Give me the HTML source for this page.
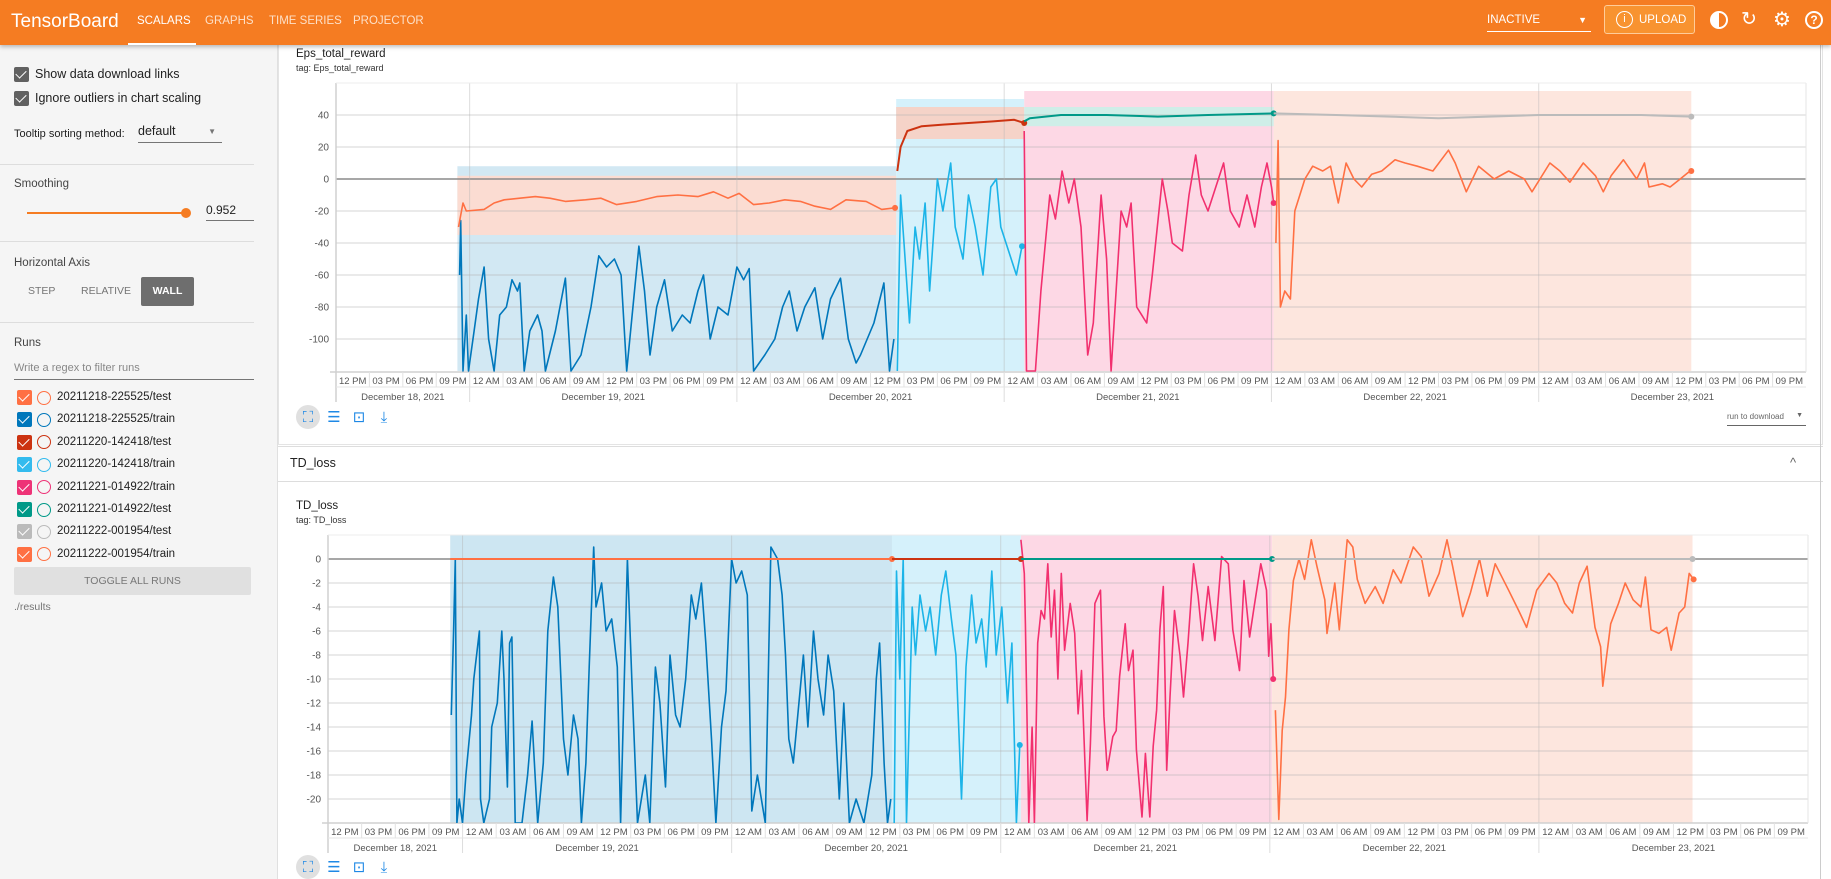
<!DOCTYPE html>
<html><head><meta charset="utf-8">
<style>
*{box-sizing:border-box;margin:0;padding:0}
body{width:1831px;height:879px;overflow:hidden;background:#fff;font-family:"Liberation Sans",sans-serif;position:relative;color:#212121}
.abs{position:absolute}
#hdr{left:0;top:0;width:1831px;height:45px;background:#f57c22;box-shadow:0 2px 4px rgba(0,0,0,.25);z-index:3}
.tab{position:absolute;top:15px;font-size:11.5px;color:#fde0c8;font-weight:normal;letter-spacing:0}
#side{left:0;top:45px;width:278px;height:834px;background:#f5f5f5;border-right:1px solid #e0e0e0}
.cb{position:absolute;width:15px;height:15px;border-radius:2px}
.cb::after{content:"";position:absolute;left:4px;top:1px;width:5px;height:9px;border:solid #fff;border-width:0 1.5px 1.5px 0;transform:rotate(45deg)}
.sep{position:absolute;left:0;width:254px;height:1px;background:#ddd}
.lbl{position:absolute;font-size:12px;color:#212121}
.run{position:absolute;left:0;height:20px;font-size:11.5px}
.ring{position:absolute;width:14px;height:14px;border-radius:50%;border:1.5px solid}
#svg{position:absolute;left:0;top:0}
</style></head><body>
<div id="hdr" class="abs">
 <div class="abs" style="left:11px;top:11px;font-size:19px;color:#fff">TensorBoard</div>
 <div class="tab" style="left:137px;color:#fff">SCALARS</div>
 <div class="abs" style="left:128px;top:43px;width:68px;height:2px;background:#fff"></div>
 <div class="tab" style="left:205px">GRAPHS</div>
 <div class="tab" style="left:269px">TIME SERIES</div>
 <div class="tab" style="left:353px">PROJECTOR</div>
 <div class="abs" style="left:1487px;top:12px;width:104px;height:20px;border-bottom:1px solid #fff;color:#fff;font-size:11.5px;padding-top:2px">INACTIVE<span style="position:absolute;right:4px;top:3px;font-size:9px">▼</span></div>
 <div class="abs" style="left:1604px;top:5px;width:91px;height:29px;border:1px solid #ffcc99;border-radius:3px;background:#f89330;color:#fff;font-size:11.5px;padding:8px 0 0 34px"><span style="position:absolute;left:11px;top:5px;width:17px;height:17px;border:1.5px solid #fff;border-radius:50%;font-size:11px;text-align:center;line-height:14px">i</span>UPLOAD</div>
 <div class="abs" style="left:1710px;top:11px;width:18px;height:18px;border-radius:50%;background:linear-gradient(90deg,#fff 50%,#f57c22 50%);border:2.5px solid #fff"></div>
 <div class="abs" style="left:1741px;top:8px;font-size:19px;color:#fff">↻</div>
 <div class="abs" style="left:1773px;top:7px;font-size:20px;color:#fff">⚙</div>
 <div class="abs" style="left:1805px;top:11px;width:18px;height:18px;border:2px solid #fff;border-radius:50%;color:#fff;font-size:12px;text-align:center;line-height:14px;font-weight:bold">?</div>
</div>

<div id="side" class="abs">
 <div class="cb" style="left:14px;top:22px;background:#616161"></div>
 <div class="lbl" style="left:35px;top:22px;font-size:12.5px">Show data download links</div>
 <div class="cb" style="left:14px;top:46px;background:#616161"></div>
 <div class="lbl" style="left:35px;top:46px;font-size:12.5px">Ignore outliers in chart scaling</div>
 <div class="lbl" style="left:14px;top:83px;font-size:11px">Tooltip sorting method:</div>
 <div class="abs" style="left:138px;top:79px;width:84px;height:19px;border-bottom:1px solid #757575;font-size:12.5px">default<span style="position:absolute;right:6px;top:3px;font-size:8px;color:#757575">▼</span></div>
 <div class="sep" style="top:119px"></div>
 <div class="lbl" style="left:14px;top:133px;font-size:11.5px;color:#444">Smoothing</div>
 <div class="abs" style="left:27px;top:167px;width:159px;height:2px;background:#f57c22"></div>
 <div class="abs" style="left:181px;top:163px;width:10px;height:10px;border-radius:50%;background:#f57c22"></div>
 <div class="abs" style="left:206px;top:158px;width:48px;height:18px;border-bottom:1px solid #757575;font-size:12px">0.952</div>
 <div class="sep" style="top:196px"></div>
 <div class="lbl" style="left:14px;top:212px;font-size:11.5px;color:#444">Horizontal Axis</div>
 <div class="lbl" style="left:28px;top:240px;font-size:10.5px;color:#757575">STEP</div>
 <div class="lbl" style="left:81px;top:240px;font-size:10.5px;color:#757575">RELATIVE</div>
 <div class="abs" style="left:141px;top:232px;width:53px;height:29px;background:#6e6e6e;border-radius:2px;color:#fff;font-size:10.5px;font-weight:bold;text-align:center;line-height:29px">WALL</div>
 <div class="sep" style="top:277px"></div>
 <div class="lbl" style="left:14px;top:292px;font-size:11.5px;color:#444">Runs</div>
 <div class="abs" style="left:14px;top:317px;width:240px;height:18px;border-bottom:1px solid #757575;font-size:11px;color:#888">Write a regex to filter runs</div>
 <div id="runs"></div>
 <div class="abs" style="left:14px;top:522px;width:237px;height:28px;background:#e0e0e0;border-radius:2px;font-size:10.5px;color:#777;text-align:center;line-height:28px">TOGGLE ALL RUNS</div>
 <div class="lbl" style="left:14px;top:556px;font-size:10.5px;color:#757575">./results</div>
</div>

<div class="abs" style="left:278px;top:45px;width:1545px;height:400px;border:1px solid #e4e4e4;border-top:none"></div>
<div class="abs" style="left:296px;top:48px;font-size:11.5px">Eps_total_reward</div>
<div class="abs" style="left:296px;top:63px;font-size:9px;color:#333">tag: Eps_total_reward</div>
<div class="abs" style="left:278px;top:446px;width:1545px;height:36px;border-top:1px solid #ddd;border-bottom:1px solid #ddd;background:#fff"></div>
<div class="abs" style="left:290px;top:456px;font-size:12.5px">TD_loss</div>
<div class="abs" style="left:1790px;top:455px;font-size:13px;color:#666">^</div>
<div class="abs" style="left:296px;top:500px;font-size:11.5px">TD_loss</div>
<div class="abs" style="left:296px;top:515px;font-size:9px;color:#333">tag: TD_loss</div>
<div class="abs" style="left:1727px;top:408px;width:79px;height:18px;border-bottom:1px solid #666;font-size:8px;color:#666;padding-top:4px">run to download<span style="position:absolute;right:3px;top:4px;font-size:7px">▼</span></div>
<div class="abs" style="left:1820px;top:45px;width:1px;height:834px;background:#ccc"></div>

<svg id="svg" width="1831" height="879" xmlns="http://www.w3.org/2000/svg"></svg>

<script>
// ---------- DATA ----------
const runNames = ['20211218-225525/test','20211218-225525/train','20211220-142418/test','20211220-142418/train','20211221-014922/train','20211221-014922/test','20211222-001954/test','20211222-001954/train'];
const runColors = ['#ff7043','#0077bb','#cc3311','#33bbee','#ee3377','#009988','#bbbbbb','#ff7043'];
const hourLabels = ['12 PM','03 PM','06 PM','09 PM','12 AM','03 AM','06 AM','09 AM'];
const dateLabels = ['December 18, 2021','December 19, 2021','December 20, 2021','December 21, 2021','December 22, 2021','December 23, 2021'];
const epsTicks = [40,20,0,-20,-40,-60,-80,-100];
const tdTicks = [0,-2,-4,-6,-8,-10,-12,-14,-16,-18,-20];
// time in hours since Dec 18 12:00 PM ; [t, value]
const epsTest1 = [[11,-30],[11.4,-15],[11.7,-20],[13.3,-19],[14.2,-15],[15.1,-13],[16.5,-12],[17.9,-11],[19.2,-12],[20.6,-14],[22.4,-13],[23.8,-12],[25.2,-16],[27,-14],[28.8,-11],[30.7,-10],[32.5,-11],[33.9,-8],[35.2,-12],[36.2,-9],[37.5,-16],[38.9,-15],[40.3,-13],[41.7,-14],[43,-17],[44.4,-19],[45.8,-13],[47.6,-14],[49,-19],[50.2,-18]];
const epsTrain1 = [[11.1,-60],[11.2,-26],[11.4,-120],[11.7,-85],[11.9,-120],[12.4,-95],[12.8,-75],[13.3,-55],[13.7,-100],[14.2,-120],[14.7,-85],[15.3,-80],[15.8,-63],[16.3,-70],[16.5,-65],[16.9,-120],[17.4,-95],[18.1,-85],[18.5,-95],[18.8,-120],[19.7,-95],[20.6,-62],[21.1,-120],[22,-110],[22.9,-80],[23.6,-48],[24.3,-55],[25,-50],[25.6,-60],[26.1,-120],[26.8,-70],[27.2,-42],[27.7,-70],[28.2,-110],[28.8,-80],[29.5,-63],[30.2,-95],[31.1,-85],[31.8,-90],[32.5,-70],[33,-60],[33.6,-100],[34.3,-80],[35.2,-85],[36,-55],[36.6,-63],[37.1,-56],[37.5,-120],[38.5,-110],[39.4,-100],[40.1,-80],[40.7,-70],[41.4,-95],[42.1,-80],[43,-68],[43.7,-100],[44.4,-75],[45.3,-62],[46,-100],[46.7,-115],[47.1,-110],[48.3,-90],[49.2,-65],[49.7,-120],[50.1,-100]];
const epsTest2 = [[50.4,5],[50.7,20],[51.3,30],[52.6,33],[54.5,34],[56.8,35],[59,36],[60.9,37],[61.8,35]];
const epsTrain2 = [[50.4,-120],[50.7,-10],[51,-40],[51.5,-90],[52,-30],[52.4,-50],[52.9,-15],[53.3,-70],[54,0],[54.5,-20],[55.2,10],[55.6,-30],[56.3,-50],[56.8,-10],[57.4,-30],[58.1,-60],[58.8,-5],[59.3,0],[59.7,-30],[60.4,-45],[61.1,-60],[61.6,-42]];
const epsTrain3 = [[61.8,30],[62,-120],[62.8,-120],[63.3,-70],[64.1,-10],[64.6,-25],[65.2,5],[65.8,-15],[66.3,0],[66.9,-30],[67.5,-110],[68,-90],[68.7,-10],[69.2,-50],[69.6,-120],[70.5,-20],[71,-30],[71.4,-15],[71.9,-80],[72.8,-90],[73.3,-60],[74.2,0],[74.7,-20],[75.1,-40],[76,-45],[76.6,-10],[77.2,15],[77.7,-10],[78.3,-20],[79,-5],[79.7,10],[80.3,-20],[81.1,-30],[81.8,-10],[82.5,-30],[83.1,-5],[83.6,10],[84,-5],[84.2,-15]];
const epsTest3 = [[61.8,36],[62.3,38],[65.1,40],[69.2,40],[73.8,39],[78.3,40],[84.2,41]];
const epsTest4 = [[84.2,41],[89.8,40],[99,38],[108,40],[117.2,40],[121.7,39]];
const epsTrain4 = [[84.4,-40],[84.6,24],[84.8,-80],[85.2,-70],[85.7,-75],[86.1,-20],[87,0],[87.7,8],[88.6,5],[89.3,8],[90,-15],[90.7,10],[91.4,0],[92.1,-5],[93,3],[93.9,5],[95.1,12],[96,10],[97.1,8],[98.5,5],[99.9,18],[100.5,10],[101.5,-8],[102.6,8],[104,0],[105.3,5],[106.7,0],[107.4,-8],[109,10],[109.9,5],[110.8,-2],[112,10],[113.1,2],[113.8,-8],[114.5,2],[115.6,12],[116.8,0],[117.5,10],[117.9,-5],[119.1,-3],[119.8,-5],[120.7,0],[121.4,4],[121.7,5]];
// raw-data envelopes [tStart, tEnd, low, high]
const epsBands = [[10.9,50.3,-120,8],[50.3,61.8,-120,50],[61.8,84.2,-120,55],[84.2,121.7,-120,55],[10.9,50.3,-35,2],[50.3,61.8,25,45],[61.8,84.2,33,45]];
const tdTrain1 = [[11,-13],[11.2,-6],[11.35,0],[11.5,-22],[11.7,-20],[12,-22],[12.3,-18],[12.8,-13],[13,-10],[13.5,-6],[13.6,-20],[13.9,-22],[14.4,-20],[14.6,-14],[15.1,-12],[15.5,-6],[15.7,-10],[16,-19],[16.2,-7],[16.4,-6.5],[16.7,-22],[17.3,-22],[17.8,-18],[18.2,-13.5],[18.7,-22],[19.2,-17],[19.6,-6],[20.1,-1.5],[20.5,-4],[21,-15],[21.4,-18],[21.9,-13],[22.3,-15],[22.6,-22],[23,-17],[23.3,-9],[23.7,1],[23.9,-4],[24.4,-2],[24.8,-6],[25.3,-5],[25.8,-9],[26.1,-22],[26.7,0],[27.1,-10],[27.6,-22],[28.3,-18],[28.7,-22],[29.2,-9],[29.6,-12],[30.1,-19],[30.5,-8],[31,-13],[31.4,-14],[31.9,-10],[32.4,-3],[32.8,-5],[33.3,-2],[33.7,-7],[34.2,-15],[34.6,-22],[35.1,-14],[35.5,-11],[36,0],[36.4,-2],[36.9,-1],[37.4,-3],[37.8,-21],[38.3,-18],[39,-22],[39.5,1],[40.1,0],[40.5,-3],[40.8,-8],[41.1,-15],[41.5,-17],[41.9,-13],[42.4,-8],[42.8,-14],[43.3,-6],[43.7,-10],[44.2,-13],[44.6,-8],[45.1,-11],[45.6,-20],[46,-12],[46.5,-22],[47.1,-20],[47.8,-22],[48.5,-18],[48.9,-10],[49.2,-7],[49.6,-17],[49.9,-22],[50.2,-20]];
const tdTrain2 = [[50.5,-22],[50.7,-1],[51,-10],[51.3,0],[51.6,-22],[52.1,-4],[52.4,-8],[52.8,-3],[53.3,-6],[53.7,-4],[54.2,-8],[54.7,-3],[55.1,-1],[55.6,-5],[56,-8],[56.5,-20],[56.9,-9],[57.4,-3],[57.8,-7],[58.3,-5],[58.7,-9],[59.2,-1],[59.6,-8],[60.1,-4],[60.6,-12],[61,-7],[61.4,-22],[61.7,-15.5]];
const tdTrain3 = [[61.8,1.6],[62.1,-1.2],[62.2,-5.4],[62.5,-22],[62.8,-14],[63,-22],[63.3,-7],[63.6,-4.3],[63.9,-5],[64.2,-0.4],[64.5,-6.5],[64.8,-2.6],[65.1,-10],[65.4,-1.2],[65.7,-7.6],[66.2,-3.7],[66.6,-6.2],[66.9,-12.9],[67.2,-9.3],[67.7,-21.8],[68,-15.4],[68.4,-3.7],[68.9,-2.6],[69.2,-13.1],[69.5,-17.6],[70,-14.8],[70.3,-14.3],[70.6,-9.8],[71.1,-5.4],[71.4,-9.3],[71.8,-7.6],[72.1,-15.9],[72.6,-21.5],[72.9,-16.2],[73.3,-21.5],[73.6,-15.6],[73.9,-12.6],[74.2,-5.9],[74.5,-2.3],[74.8,-17.6],[75.1,-11.5],[75.5,-4.3],[76,-8.1],[76.3,-11.5],[76.7,-7],[77.2,-0.4],[77.6,-3.1],[78,-6.8],[78.5,-2.3],[79.1,-6.8],[79.7,0.2],[80.3,-0.4],[80.7,-5.9],[81.3,-9.3],[81.7,-1.8],[82.2,-6.5],[82.6,-4],[83.2,-0.4],[83.7,-2.6],[83.9,-8.1],[84.1,-5.4],[84.3,-10]];
const tdTrain4 = [[84.5,-12.6],[84.8,-21.7],[85.1,-14.3],[85.4,-11.5],[85.7,-5.9],[86.1,-1.8],[86.6,0],[87.1,-1.7],[87.7,1.6],[88.2,-0.6],[88.9,-3.4],[89.1,-6.2],[89.8,-2],[90.2,-5.9],[90.9,1.6],[91.4,1],[91.8,-1.7],[92.5,-3.7],[93.4,-2.3],[94.1,-3.7],[95,-0.9],[95.7,-2],[96.8,1],[97.5,0.2],[98.2,-3.1],[99.1,-1.2],[99.8,1.6],[100.3,-0.6],[101.2,-4.8],[101.9,-2.8],[102.7,0],[103.4,-3.1],[104.1,-0.4],[105.3,-2.6],[106.2,-4.3],[106.9,-5.7],[107.8,-2.6],[108.9,-1.2],[109.6,-2],[110.3,-3.7],[111,-4.5],[111.6,-2],[112.3,-0.6],[113,-5.7],[113.5,-7.3],[113.7,-10.6],[114.4,-5.4],[115.1,-3.7],[115.7,-2],[116.4,-3.4],[117.1,-4],[117.5,-1.5],[118,-5.9],[118.7,-6.2],[119.4,-5.7],[119.8,-7.6],[120.5,-4.5],[121,-4],[121.4,-1.2],[121.8,-1.7]];
const tdTest1 = [[10.9,0],[50.3,0]];
const tdTest2 = [[50.3,0],[61.8,0]];
const tdTest3 = [[61.8,0],[84.2,0]];
const tdTest4 = [[84.2,0],[121.7,0]];
const tdBands = [[10.9,50.3,-22,2],[50.3,61.8,-22,2],[61.8,84.2,-22,2],[84.2,121.7,-22,2]];

// ---------- RENDER ----------
const NS='http://www.w3.org/2000/svg';
const svg=document.getElementById('svg');
function mk(tag,attrs,parent){const e=document.createElementNS(NS,tag);for(const k in attrs)e.setAttribute(k,attrs[k]);(parent||svg).appendChild(e);return e;}

const runsDiv=document.getElementById('runs');
runNames.forEach((n,i)=>{
  const r=document.createElement('div');
  r.className='run';r.style.top=(345+i*22.4)+'px';
  
  
  r.innerHTML='<div class="cb" style="left:17px;top:0;background:'+runColors[i]+'"></div><div class="ring" style="left:37px;top:0.5px;border-color:'+runColors[i]+'"></div><span style="position:absolute;left:57px;top:1px;white-space:nowrap">'+n+'</span>';
  runsDiv.appendChild(r);
});

function chart(cfg){
  const {L,R,T,B,vTop,vBot,ticks,id}=cfg;
  const xs=t=>L+t*(R-L)/132;
  const ys=v=>T+(vTop-v)*(B-T)/(vTop-vBot);
  const g=mk('g',{});
  
  
  const clip=mk('clipPath',{id:id+'clip'},g);mk('rect',{x:L,y:T,width:R-L,height:B-T},clip);
  const pg=mk('g',{'clip-path':'url(#'+id+'clip)'},g);
  cfg.bands.forEach((b,i)=>{
    const r=mk('rect',{x:xs(b[0]),y:ys(b[3]),width:xs(b[1])-xs(b[0]),height:ys(b[2])-ys(b[3]),fill:cfg.bandColors[i]},pg);
    
    
  });
  ticks.forEach(v=>{
    const y=ys(v);
    const ln=mk('line',{x1:L,x2:R,y1:y,y2:y,stroke:v===0?'#8a8a8a':'rgba(180,180,180,0.45)','stroke-width':v===0?1.5:1.2},g);
    
    
    const tx=mk('text',{x:L-7,y:y+3.5,'text-anchor':'end','font-size':10,fill:'#555','font-family':'Liberation Sans, sans-serif'},g);
    tx.textContent=String(v);
    
    
  });
  [12,36,60,84,108].forEach(t=>{const l=mk('line',{x1:xs(t),x2:xs(t),y1:T,y2:B+30,stroke:'rgba(180,180,180,0.45)','stroke-width':1},g);
    
    });
  mk('line',{x1:L,x2:L,y1:T,y2:B+30,stroke:'#d0d0d0','stroke-width':1.5},g);
  mk('line',{x1:L-6,x2:R,y1:B,y2:B,stroke:'#d0d0d0','stroke-width':1.5},g);
  mk('line',{x1:L,x2:R,y1:B+15,y2:B+15,stroke:'#e6e6e6','stroke-width':1},g);
  mk('line',{x1:R,x2:R,y1:T,y2:B,stroke:'#e6e6e6','stroke-width':1},g);
  mk('line',{x1:L,x2:R,y1:T,y2:T,stroke:'#ececec','stroke-width':1},g);
  for(let i=0;i<44;i++){
    const x0=xs(i*3);
    if(i>0){mk('line',{x1:x0,x2:x0,y1:B,y2:B+15,stroke:'#e2e2e2'},g);}
    const tx=mk('text',{x:x0+(xs(3)-xs(0))/2,y:B+12,'text-anchor':'middle','font-size':9.5,fill:'#555','font-family':'Liberation Sans, sans-serif'},g);
    tx.textContent=hourLabels[i%8];
    
    
  }
  dateLabels.forEach((d,i)=>{
    const a=Math.max(0,i*24-12),b=Math.min(132,i*24+12);
    const tx=mk('text',{x:(xs(a)+xs(b))/2,y:B+28,'text-anchor':'middle','font-size':9.5,fill:'#555','font-family':'Liberation Sans, sans-serif'},g);
    tx.textContent=d;
    
    
  });
  const lg=mk('g',{'clip-path':'url(#'+id+'clip)'},g);
  cfg.series.forEach(s=>{
    const d=s.data.map((p,j)=>(j?'L':'M')+xs(p[0]).toFixed(1)+' '+ys(p[1]).toFixed(1)).join(' ');
    const p=mk('path',{d:d,fill:'none',stroke:s.color,'stroke-width':s.w||1.6,'stroke-linejoin':'round'},lg);
    
    
    if(s.dot){const last=s.data[s.data.length-1];
      const c=mk('circle',{cx:xs(last[0]),cy:ys(last[1]),r:3,fill:s.color},lg);
      
      }
  });
  const iy=cfg.iconY;
  mk('circle',{cx:308,cy:iy,r:12,fill:'#e0e0e0'},g);
  const ic=['⛶','☰','⊡','⤓'];
  [308,334,359,384].forEach((x,i)=>{
    const tx=mk('text',{x:x,y:iy+5,'text-anchor':'middle','font-size':15,fill:'#1e88e5','font-family':'DejaVu Sans, sans-serif'},g);
    tx.textContent=ic[i];
    
    
  });
}

chart({id:'eps',L:336,R:1806,T:83,B:372,vTop:60,vBot:-120.6,ticks:epsTicks,iconY:417,
  bands:epsBands,
  bandColors:['#d2e8f3','#d5f1fb','#fdd8e5','#fde6de','#fbdcd2','#f5d3c8','#cfeee8'],
  series:[
    {name:'eps-train-20211218',data:epsTrain1,color:'#0077bb'},
    {name:'eps-train-20211220',data:epsTrain2,color:'#1cb4e8',dot:true},
    {name:'eps-train-20211221',data:epsTrain3,color:'#f2306f',dot:true},
    {name:'eps-train-20211222',data:epsTrain4,color:'#ff7043',dot:true},
    {name:'eps-test-20211218',data:epsTest1,color:'#ff7043',dot:true},
    {name:'eps-test-20211220',data:epsTest2,color:'#cc3311',dot:true,w:2},
    {name:'eps-test-20211221',data:epsTest3,color:'#009988',dot:true,w:2},
    {name:'eps-test-20211222',data:epsTest4,color:'#bbbbbb',dot:true,w:2}
  ]});
chart({id:'td',L:328,R:1808,T:535,B:823,vTop:2,vBot:-22,ticks:tdTicks,iconY:867,
  bands:tdBands,
  bandColors:['#cde6f2','#d5f1fb','#fdd8e5','#fde6de'],
  series:[
    {name:'td-train-20211218',data:tdTrain1,color:'#0077bb'},
    {name:'td-train-20211220',data:tdTrain2,color:'#1cb4e8',dot:true},
    {name:'td-train-20211221',data:tdTrain3,color:'#f2306f',dot:true},
    {name:'td-train-20211222',data:tdTrain4,color:'#ff7043',dot:true},
    {name:'td-test-20211218',data:tdTest1,color:'#ff7043',dot:true,w:2},
    {name:'td-test-20211220',data:tdTest2,color:'#cc3311',dot:true,w:2},
    {name:'td-test-20211221',data:tdTest3,color:'#009988',dot:true,w:2},
    {name:'td-test-20211222',data:tdTest4,color:'#bbbbbb',dot:true,w:2}
  ]});
</script>
</body></html>
